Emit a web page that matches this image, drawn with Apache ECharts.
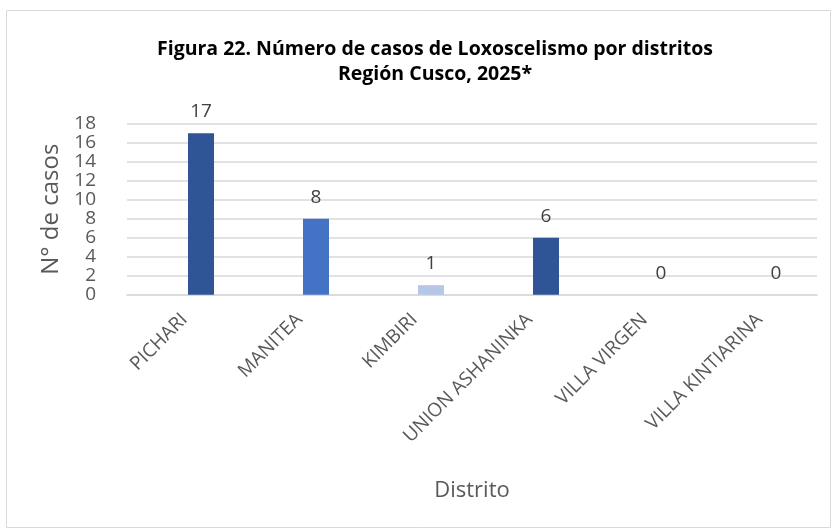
<!DOCTYPE html>
<html>
<head>
<meta charset="utf-8">
<script src="https://cdn.jsdelivr.net/npm/echarts@6/dist/echarts.min.js"></script>
<style>
  html, body { margin: 0; padding: 0; background: #fff; }
  #chart { width: 836px; height: 531px; }
</style>
</head>
<body>
<div id="chart"></div>
<script>
const districts = ['PICHARI', 'MANITEA', 'KIMBIRI', 'UNION ASHANINKA', 'VILLA VIRGEN', 'VILLA KINTIARINA']
const cases = [17, 8, 1, 6, 0, 0]
const barColors = ['#2F5597', '#4472C4', '#B4C7E7', '#2F5597', '#2F5597', '#2F5597']
// empty first series: Excel leaves a slot on the left of every bar
const emptySlot = [null, null, null, null, null, null]
const yTicks = { min: 0, max: 18, interval: 2 }

const font = '"Open Sans", sans-serif'

const chart = echarts.init(document.getElementById('chart'))

chart.setOption({
  animation: false,
  backgroundColor: '#fff',
  textStyle: { fontFamily: font },
  graphic: [{
    type: 'rect',
    shape: { x: 6.5, y: 10.5, width: 824, height: 517 },
    style: { fill: 'none', stroke: '#d9d9d9', lineWidth: 1 },
  }],
  title: {
    text: 'Figura 22. Número de casos de Loxoscelismo por distritos\nRegión Cusco, 2025*',
    left: 430,
    textAlign: 'center',
    top: 32,
    textStyle: { fontFamily: font, fontSize: 19.5, fontWeight: 'bold', color: '#000', lineHeight: 25 },
  },
  grid: { left: 127, right: 19, top: 123.7, bottom: 236.3 },
  xAxis: {
    type: 'category',
    data: districts,
    axisLine: { lineStyle: { color: '#d9d9d9', width: 1.5 } },
    axisTick: { show: false },
    axisLabel: { rotate: 45, interval: 0, margin: 22, color: '#595959', fontSize: 19, fontFamily: font },
    name: 'Distrito',
    nameLocation: 'middle',
    nameGap: 185,
    nameTextStyle: { color: '#595959', fontSize: 22, fontFamily: font },
  },
  yAxis: {
    type: 'value',
    min: yTicks.min,
    max: yTicks.max,
    interval: yTicks.interval,
    axisLine: { show: false },
    axisTick: { show: false },
    axisLabel: { color: '#595959', fontSize: 19, margin: 31, fontFamily: font },
    splitLine: { lineStyle: { color: '#d9d9d9', width: 1.5 } },
    name: 'N° de casos',
    nameLocation: 'middle',
    nameGap: 62,
    nameTextStyle: { color: '#595959', fontSize: 24, fontFamily: font },
  },
  series: [
    {
      type: 'bar',
      data: emptySlot,
      barWidth: 26,
      barGap: '27%',
    },
    {
      type: 'bar',
      data: cases.map((v, i) => ({ value: v, itemStyle: { color: barColors[i] } })),
      barWidth: 26,
      barGap: '27%',
      label: {
        show: true,
        position: 'top',
        distance: 12,
        color: '#404040',
        fontSize: 19,
        fontFamily: font,
      },
    },
  ],
})
</script>
</body>
</html>
